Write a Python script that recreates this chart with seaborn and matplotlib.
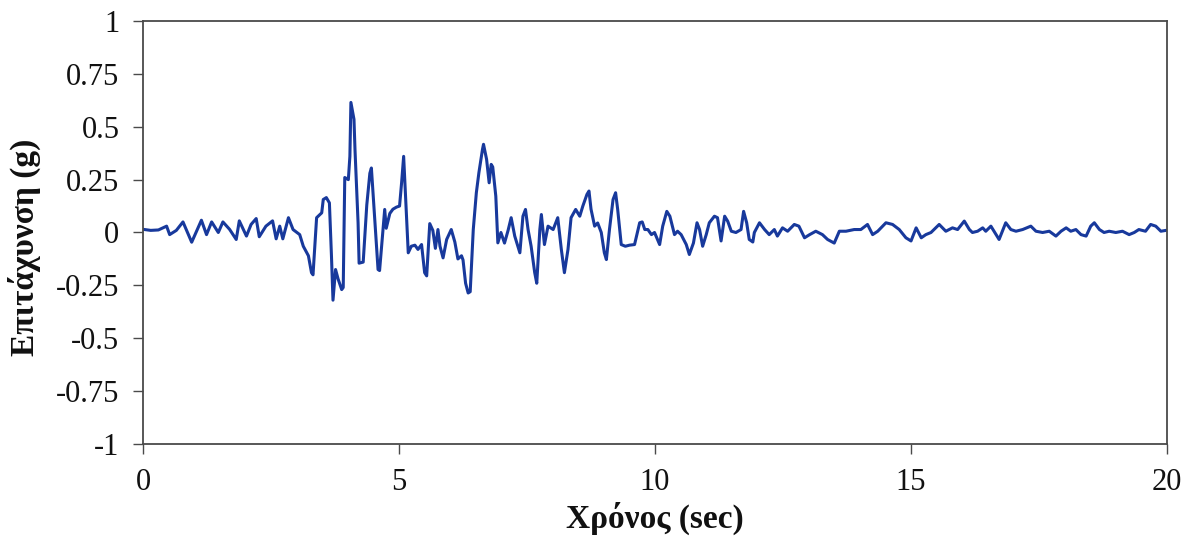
import numpy as np
import pandas as pd
import matplotlib
matplotlib.use("Agg")
import matplotlib.pyplot as plt
import seaborn as sns

time_s = [0.0, 0.15, 0.3, 0.46, 0.52, 0.65, 0.78, 0.95, 1.14, 1.24, 1.34, 1.47, 1.56, 1.69, 1.82, 1.88,
          2.02, 2.11, 2.21, 2.27, 2.40, 2.53, 2.6, 2.67, 2.73, 2.84, 2.93, 3.06, 3.13, 3.23, 3.29, 3.32,
          3.39, 3.49, 3.52, 3.58, 3.64, 3.68, 3.71, 3.76, 3.81, 3.88, 3.91, 3.94, 4.01, 4.04, 4.06, 4.12,
          4.14, 4.2, 4.22, 4.3, 4.37, 4.43, 4.46, 4.53, 4.59, 4.62, 4.72, 4.75, 4.82, 4.88, 4.95, 5.01,
          5.05, 5.09, 5.15, 5.18, 5.24, 5.31, 5.37, 5.44, 5.5, 5.54, 5.6, 5.66, 5.71, 5.76, 5.8, 5.86,
          5.93, 6.02, 6.09, 6.15, 6.22, 6.25, 6.3, 6.35, 6.39, 6.45, 6.51, 6.56, 6.63, 6.65, 6.71, 6.76,
          6.8, 6.83, 6.89, 6.93, 6.99, 7.06, 7.13, 7.19, 7.26, 7.36, 7.42, 7.47, 7.52, 7.58, 7.65, 7.69,
          7.75, 7.78, 7.84, 7.91, 8.01, 8.1, 8.17, 8.23, 8.3, 8.36, 8.45, 8.53, 8.59, 8.67, 8.71, 8.75,
          8.82, 8.88, 8.95, 9.01, 9.05, 9.11, 9.18, 9.23, 9.27, 9.34, 9.42, 9.5, 9.6, 9.7, 9.75, 9.8,
          9.86, 9.93, 9.99, 10.09, 10.15, 10.23, 10.29, 10.38, 10.44, 10.51, 10.61, 10.67, 10.75, 10.82,
          10.87, 10.93, 11.0, 11.06, 11.16, 11.22, 11.29, 11.36, 11.42, 11.49, 11.58, 11.68, 11.73, 11.79,
          11.84, 11.91, 11.94, 12.04, 12.14, 12.23, 12.33, 12.39, 12.49, 12.59, 12.72, 12.81, 12.92, 13.02,
          13.14, 13.27, 13.37, 13.5, 13.6, 13.73, 13.89, 14.02, 14.15, 14.25, 14.35, 14.51, 14.64, 14.77,
          14.9, 15.0, 15.1, 15.2, 15.29, 15.39, 15.55, 15.68, 15.81, 15.91, 16.04, 16.14, 16.2, 16.3,
          16.4, 16.46, 16.56, 16.66, 16.72, 16.85, 16.95, 17.05, 17.18, 17.34, 17.44, 17.57, 17.7, 17.83,
          17.93, 18.03, 18.12, 18.22, 18.32, 18.42, 18.51, 18.58, 18.68, 18.77, 18.87, 19.0, 19.13, 19.26,
          19.36, 19.45, 19.58, 19.68, 19.78, 19.88, 19.98]

accel_g = [0.015, 0.01, 0.012, 0.03, -0.01, 0.01, 0.05, -0.046, 0.058, -0.01, 0.05, 0.0, 0.05, 0.015, -0.033, 0.055,
           -0.017, 0.038, 0.066, -0.02, 0.03, 0.055, -0.03, 0.03, -0.03, 0.07, 0.014, -0.01, -0.065, -0.11, -0.19, -0.2,
           0.07, 0.093, 0.156, 0.165, 0.14, -0.11, -0.32, -0.175, -0.22, -0.27, -0.26, 0.26, 0.25, 0.36, 0.615, 0.535,
           0.39, 0.046, -0.145, -0.14, 0.13, 0.28, 0.305, 0.046, -0.175, -0.18, 0.109, 0.02, 0.09, 0.11, 0.12, 0.125,
           0.235, 0.36, 0.05, -0.096, -0.065, -0.06, -0.08, -0.057, -0.19, -0.205, 0.042, 0.01, -0.075, 0.014, -0.065, -0.12,
           -0.033, 0.014, -0.045, -0.125, -0.11, -0.13, -0.24, -0.286, -0.28, 0.014, 0.188, 0.283, 0.393, 0.417, 0.346, 0.235,
           0.322, 0.31, 0.172, -0.049, 0.0, -0.05, 0.01, 0.07, -0.017, -0.096, 0.077, 0.109, 0.014, -0.065, -0.19, -0.24,
           0.014, 0.085, -0.057, 0.03, 0.014, 0.07, -0.08, -0.19, -0.08, 0.07, 0.109, 0.077, 0.125, 0.18, 0.196, 0.11,
           0.03, 0.045, 0.0, -0.096, -0.128, 0.014, 0.156, 0.188, 0.11, -0.057, -0.065, -0.06, -0.057, 0.046, 0.05, 0.014,
           0.014, -0.01, 0.0, -0.057, 0.03, 0.1, 0.077, -0.01, 0.006, -0.01, -0.057, -0.104, -0.05, 0.046,
           0.014, -0.065, -0.01, 0.046, 0.077, 0.07, -0.04, 0.077, 0.053, 0.006, 0.0, 0.014, 0.1, 0.046,
           -0.033, -0.045, 0.0, 0.046, 0.014, -0.01, 0.014, -0.017, 0.022, 0.006, 0.038, 0.03, -0.025, -0.01,
           0.006, -0.01, -0.033, -0.05, 0.006, 0.006, 0.014, 0.014, 0.038, -0.01, 0.006, 0.046, 0.038, 0.014,
           -0.025, -0.04, 0.022, -0.025, -0.01, 0.0, 0.038, 0.006, 0.022, 0.014, 0.054, 0.014, 0.0, 0.006,
           0.022, 0.006, 0.03, -0.01, -0.033, 0.046, 0.014, 0.006, 0.014, 0.03, 0.006, 0.0, 0.006, -0.017,
           0.006, 0.022, 0.006, 0.014, -0.01, -0.017, 0.03, 0.046, 0.014, 0.0, 0.006, 0.0, 0.006, -0.01,
           0.0, 0.014, 0.006, 0.038, 0.03, 0.006, 0.01]

x_ticks = [0, 5, 10, 15, 20]
y_ticks = [-1, -0.75, -0.5, -0.25, 0, 0.25, 0.5, 0.75, 1]
y_tick_labels = ["-1", "-0.75", "-0.5", "-0.25", "0", "0.25", "0.5", "0.75", "1"]
x_label = "Χρόνος (sec)"
y_label = "Επιτάχυνση (g)"

df = pd.DataFrame({"t": time_s, "a": accel_g})

sns.set_style("white")
plt.rcParams["font.family"] = ["Liberation Serif", "DejaVu Serif"]

fig = plt.figure(figsize=(11.94, 5.40), dpi=100)
ax = fig.add_axes([0.1198, 0.1778, 0.8576, 0.7833])

sns.lineplot(data=df, x="t", y="a", ax=ax, color="#18399c", linewidth=2.2,
             estimator=None, sort=False)

ax.set_xlim(0, 20)
ax.set_ylim(-1, 1)
ax.set_xticks(x_ticks)
ax.set_xticklabels([str(v) for v in x_ticks])
ax.set_yticks(y_ticks)
ax.set_yticklabels(y_tick_labels)

for s in ax.spines.values():
    s.set_visible(True)
    s.set_color("#4a4a4a")
    s.set_linewidth(1.3)

ax.tick_params(axis="both", direction="out", length=7, width=1.0, color="#4a4a4a",
               labelsize=22, labelcolor="#111111", left=True, bottom=True)
ax.tick_params(axis="y", pad=10)
ax.tick_params(axis="x", pad=10)

ax.set_xlabel(x_label, fontsize=24, fontweight="bold", color="#111111", labelpad=4)
ax.set_ylabel(y_label, fontsize=24, fontweight="bold", color="#111111", labelpad=6)
ax.yaxis.set_label_coords(-0.100, 0.466)

fig.savefig("out.png", dpi=100, facecolor="white")
